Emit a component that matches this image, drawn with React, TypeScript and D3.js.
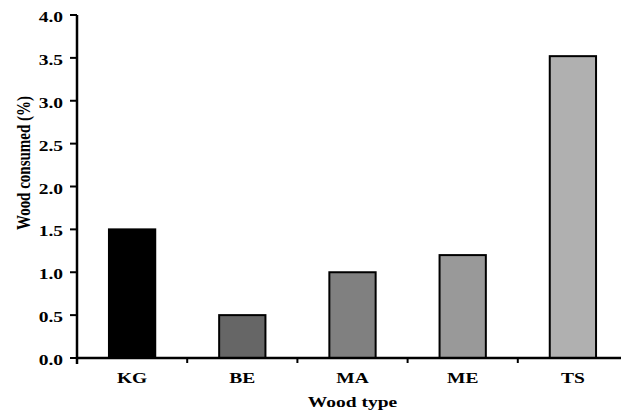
import React from "react";
import * as d3 from "d3";

const categories = ["KG", "BE", "MA", "ME", "TS"];
const values = [1.5, 0.5, 1.0, 1.2, 3.52];
const colors = ["#000000", "#666666", "#808080", "#999999", "#b0b0b0"];
const yTicks = [0, 0.5, 1.0, 1.5, 2.0, 2.5, 3.0, 3.5, 4.0];

export default function App() {
  const W = 621, H = 414;
  const x0 = 77, x1 = 628, yTop = 15, yBot = 358;
  const x = d3.scaleBand<string>().domain(categories).range([x0, x1]).paddingInner(0.58).paddingOuter(0.29);
  const y = d3.scaleLinear().domain([0, 4]).range([yBot, yTop]);
  const step = x.step();
  const sx = 1.3;
  const ff = { fontFamily: "Liberation Serif, Tinos, Times New Roman, DejaVu Serif, serif" };
  return (
    <svg width={W} height={H} style={{ position: "absolute", left: 0, top: 0, background: "#fff" }}>
      {categories.map((c, i) => (
        <rect key={c} x={x(c)} y={y(values[i])} width={x.bandwidth()} height={yBot - y(values[i])}
          fill={colors[i]} stroke="#000" strokeWidth={2} />
      ))}
      <line x1={x0} x2={W} y1={yBot} y2={yBot} stroke="#000" strokeWidth={2.5} />
      <line x1={x0} x2={x0} y1={yTop} y2={yBot + 6} stroke="#000" strokeWidth={2.5} />
      {categories.slice(1).map((c) => (
        <line key={"t" + c} x1={x(c)! - (step - x.bandwidth()) / 2} x2={x(c)! - (step - x.bandwidth()) / 2}
          y1={yBot} y2={yBot + 5} stroke="#000" strokeWidth={2} />
      ))}
      {yTicks.map((t) => (
        <g key={t}>
          <line x1={x0 - 7} x2={x0} y1={y(t)} y2={y(t)} stroke="#000" strokeWidth={2} />
          <text transform={`translate(${x0 - 14},${y(t) + 7}) scale(${sx},1)`} textAnchor="end" style={ff} fontWeight="bold" fontSize={15}>
            {t.toFixed(1)}
          </text>
        </g>
      ))}
      {categories.map((c) => (
        <text key={"l" + c} transform={`translate(${x(c)! + x.bandwidth() / 2},383) scale(${sx},1)`} textAnchor="middle" style={ff} fontWeight="bold" fontSize={15}>
          {c}
        </text>
      ))}
      <text transform={`translate(${(x0 + x1) / 2},407) scale(${sx},1)`} textAnchor="middle" style={ff} fontWeight="bold" fontSize={15}>Wood type</text>
      <text transform={`translate(30,163) scale(${sx},1) rotate(-90)`} textAnchor="middle" style={ff} fontWeight="bold" fontSize={15}>
        Wood consumed (%)
      </text>
    </svg>
  );
}
